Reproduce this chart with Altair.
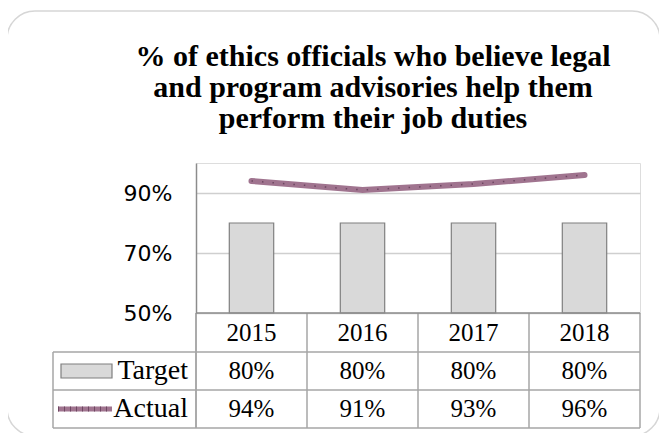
import altair as alt
import pandas as pd

years = ["2015", "2016", "2017", "2018"]
target = [0.80, 0.80, 0.80, 0.80]
actual = [0.94, 0.91, 0.93, 0.96]
title_lines = ["% of ethics officials who believe legal",
               "and program advisories help them",
               "perform their job duties"]
y_ticks = [0.50, 0.55, 0.60, 0.65, 0.70, 0.75, 0.80, 0.85, 0.90, 0.95, 1.00]
y_labels = [0.50, 0.70, 0.90]
row_names = ["Target", "Actual"]

df = pd.DataFrame({"year": years, "target": target, "actual": actual})
one = pd.DataFrame({"a": [0]})

W, H = 444, 150
BORDER = "#a6a6a6"
SERIF = "Liberation Serif"

xs = alt.X("year:N", scale=alt.Scale(paddingInner=0, paddingOuter=0), axis=None)
label_test = "|".join(str(round(v * 100)) for v in y_labels)
ys = alt.Scale(domain=[0.5, 1.0], nice=False, zero=False)

base = alt.Chart(df)

card = alt.Chart(one).mark_rect(
    fill="transparent", stroke="#d6d6d6", strokeWidth=1.5, cornerRadius=28
).encode(x=alt.value(-189), x2=alt.value(464), y=alt.value(-152), y2=alt.value(273))

bars = base.mark_bar(
    fill="#d9d9d9", stroke="#7f7f7f", strokeWidth=1.2,
    width=alt.RelativeBandSize(0.4)
).encode(
    x=xs,
    y=alt.Y("target:Q", scale=ys, title=None, axis=alt.Axis(
        values=y_ticks, grid=True, gridColor="#cfcfcf", gridWidth=1.3,
        ticks=False, domain=True, domainColor="#8c8c8c", domainWidth=1.5,
        labelExpr=f"test(/^({label_test})$/, '' + round(datum.value * 100)) ? format(datum.value, '.0%') : ''",
        labelFont="DejaVu Sans", labelFontSize=22, labelColor="#000000",
        labelPadding=24, labelBaseline="middle",
    )),
    y2=alt.datum(0.5),
)

line = base.mark_line(color="#a0748f", strokeWidth=6, strokeCap="round").encode(
    x=xs, y=alt.Y("actual:Q", scale=ys)
)
line_dots = base.mark_line(color="#6e4762", strokeWidth=1.5, strokeDash=[1.5, 9]).encode(
    x=xs, y=alt.Y("actual:Q", scale=ys)
)

title = alt.Chart(one).mark_text(
    text="\n".join(title_lines), lineBreak="\n", lineHeight=31,
    font=SERIF, fontSize=30, fontWeight="bold", color="#000000",
    align="center", baseline="alphabetic",
).encode(x=alt.value(177), y=alt.value(-97))

# table grid lines
rule_style = dict(color=BORDER, strokeWidth=1.5)
vlines = base.mark_rule(**rule_style).encode(
    x=alt.X("year:N", scale=alt.Scale(paddingInner=0, paddingOuter=0), axis=None, bandPosition=0),
    y=alt.value(150), y2=alt.value(265),
)
right_line = alt.Chart(one).mark_rule(**rule_style).encode(
    x=alt.value(W), y=alt.value(150), y2=alt.value(265))
left_axis_ext = alt.Chart(one).mark_rule(**rule_style).encode(
    x=alt.value(0), y=alt.value(150), y2=alt.value(265))
table_left = alt.Chart(one).mark_rule(**rule_style).encode(
    x=alt.value(-143), y=alt.value(189), y2=alt.value(265))
h_rows = [
    alt.Chart(one).mark_rule(**rule_style).encode(
        x=alt.value(-143), x2=alt.value(W), y=alt.value(yy))
    for yy in (189, 227, 265)
]
x_axis_line = alt.Chart(one).mark_rule(color="#8c8c8c", strokeWidth=1.5).encode(
    x=alt.value(0), x2=alt.value(W), y=alt.value(150))

txt = dict(font=SERIF, fontSize=25, color="#000000", baseline="middle", align="center")
year_text = base.mark_text(**txt).encode(x=xs, y=alt.value(170), text="year:N")
target_text = base.mark_text(**txt).encode(x=xs, y=alt.value(208), text=alt.Text("target:Q", format=".0%"))
actual_text = base.mark_text(**txt).encode(x=xs, y=alt.value(246), text=alt.Text("actual:Q", format=".0%"))

names = pd.DataFrame({"name": row_names, "ypos": [208, 246]})
name_text = alt.Chart(names).mark_text(
    font=SERIF, fontSize=28, color="#000000", baseline="middle", align="right"
).encode(x=alt.value(-8), y=alt.Y("ypos:Q", scale=None), text="name:N")

key_target = alt.Chart(one).mark_rect(fill="#d9d9d9", stroke="#7f7f7f", strokeWidth=1.2).encode(
    x=alt.value(-135), x2=alt.value(-84), y=alt.value(201), y2=alt.value(215))
key_actual = alt.Chart(one).mark_rule(color="#a0748f", strokeWidth=5).encode(
    x=alt.value(-138), x2=alt.value(-84), y=alt.value(246))
key_actual_dots = alt.Chart(one).mark_rule(color="#6e4762", strokeWidth=5, strokeDash=[1, 5]).encode(
    x=alt.value(-138), x2=alt.value(-84), y=alt.value(246))

chart = alt.layer(
    card, bars, line, line_dots, title,
    vlines, right_line, left_axis_ext, table_left, *h_rows, x_axis_line,
    year_text, target_text, actual_text, name_text,
    key_target, key_actual, key_actual_dots,
).properties(
    width=W, height=H,
    padding={"left": 188, "top": 155, "right": 19, "bottom": 120},
    autosize=alt.AutoSizeParams(type="none"),
).configure_view(stroke=None).configure(background="white")

chart.save("out.html", embed_options={"renderer": "svg", "actions": False})
